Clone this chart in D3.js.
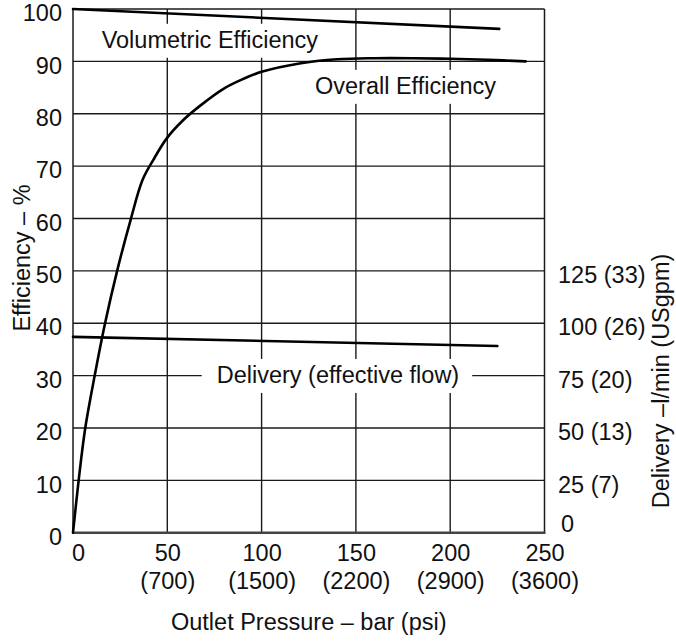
<!DOCTYPE html>
<html>
<head>
<meta charset="utf-8">
<script src="https://cdn.jsdelivr.net/npm/d3@7"></script>
<style>
  html, body { margin: 0; padding: 0; background: #fff; }
  svg { display: block; }
  text { font-family: "Liberation Sans", Arial, sans-serif; font-size: 23.5px; fill: #111; }
</style>
</head>
<body>
<svg id="chart" width="676" height="642"></svg>
<script>
// ---- data ----
const pressureTicks = [0, 50, 100, 150, 200, 250];
const psiLabels = ["", "(700)", "(1500)", "(2200)", "(2900)", "(3600)"];
const efficiencyTicks = [0, 10, 20, 30, 40, 50, 60, 70, 80, 90, 100];
const deliveryTicks = [0, 25, 50, 75, 100, 125];
const usgpmLabels = ["", "(7)", "(13)", "(20)", "(26)", "(33)"];

const volPressure = [0, 226];
const volEfficiency = [100, 96.2];

const overallPressure = [0, 3, 6.5, 11.5, 17, 23.4, 30.6, 36.8, 42.6, 49.7, 58.5, 67.3, 80, 90, 100, 120, 140, 160, 180, 200, 220, 240];
const overallEfficiency = [0, 10, 20, 30, 40, 50, 59.8, 67.3, 71.2, 75.3, 78.8, 81.5, 84.8, 86.6, 88.0, 89.6, 90.4, 90.6, 90.6, 90.5, 90.3, 90.0];

const deliveryPressure = [0, 225];
const deliveryFlow = [93.5, 89.1];   // l/min

// ---- layout ----
const svg = d3.select("#chart");
const plotL = 73, plotR = 544.5, plotT = 9, plotB = 532.7;

const x = d3.scaleLinear().domain([0, 250]).range([plotL, plotR]);
const y = d3.scaleLinear().domain([0, 100]).range([plotB, plotT]);
const yD = d3.scaleLinear().domain([0, 250]).range([plotB, plotT]);

const gridColor = "#1a1a1a";
const FONT = '"Liberation Sans", Arial, sans-serif';

// horizontal grid
svg.append("g").selectAll("line").data(efficiencyTicks.filter(d => d > 0 && d < 100)).join("line")
  .attr("x1", plotL).attr("x2", plotR)
  .attr("y1", d => y(d)).attr("y2", d => y(d))
  .attr("stroke", gridColor).attr("stroke-width", 1.4);

// vertical grid
svg.append("g").selectAll("line").data(pressureTicks.filter(d => d > 0 && d < 250)).join("line")
  .attr("x1", d => x(d)).attr("x2", d => x(d))
  .attr("y1", plotT).attr("y2", plotB)
  .attr("stroke", gridColor).attr("stroke-width", 1.4);

// frame
svg.append("line").attr("x1", plotL).attr("x2", plotR).attr("y1", plotT).attr("y2", plotT)
  .attr("stroke", gridColor).attr("stroke-width", 1.5);
svg.append("line").attr("x1", plotL).attr("x2", plotL).attr("y1", plotT).attr("y2", plotB)
  .attr("stroke", gridColor).attr("stroke-width", 1.5);
svg.append("line").attr("x1", plotR).attr("x2", plotR).attr("y1", plotT).attr("y2", plotB)
  .attr("stroke", gridColor).attr("stroke-width", 1.5);
svg.append("line").attr("x1", plotL - 1).attr("x2", plotR + 1).attr("y1", plotB).attr("y2", plotB)
  .attr("stroke", "#444").attr("stroke-width", 2.4);

// ---- labels with white backing ----
function boxedLabel(txt, px, py, padL, padR) {
  const g = svg.append("g");
  const t = g.append("text").attr("x", px).attr("y", py).text(txt);
  const w = t.node().getComputedTextLength();
  g.insert("rect", "text")
    .attr("x", px - padL).attr("y", py - 24.5)
    .attr("width", w + padL + padR).attr("height", 34)
    .attr("fill", "#fff");
}
boxedLabel("Volumetric Efficiency", x(15.2), y(92.5), 8, 8);
boxedLabel("Overall Efficiency", x(128.3), y(83.7), 8, 8);
boxedLabel("Delivery (effective flow)", x(76.2), y(28.5), 15, 13);

// ---- curves ----
const line = d3.line().x(d => x(d[0])).y(d => y(d[1]));
const lineD = d3.line().x(d => x(d[0])).y(d => yD(d[1]));

svg.append("path")
  .datum(volPressure.map((p, i) => [p, volEfficiency[i]]))
  .attr("d", line).attr("fill", "none").attr("stroke", "#000")
  .attr("stroke-width", 2.6).attr("stroke-linecap", "round");

svg.append("path")
  .datum(overallPressure.map((p, i) => [p, overallEfficiency[i]]))
  .attr("d", d3.line().x(d => x(d[0])).y(d => y(d[1])).curve(d3.curveCatmullRom.alpha(0.5)))
  .attr("fill", "none").attr("stroke", "#000")
  .attr("stroke-width", 2.6).attr("stroke-linecap", "round");

svg.append("path")
  .datum(deliveryPressure.map((p, i) => [p, deliveryFlow[i]]))
  .attr("d", lineD).attr("fill", "none").attr("stroke", "#000")
  .attr("stroke-width", 2.6).attr("stroke-linecap", "round");

// ---- axes ----
const yAxis = d3.axisLeft(y).tickValues(efficiencyTicks).tickSize(0).tickPadding(11);
const gy = svg.append("g").attr("transform", `translate(${plotL},0)`).call(yAxis);
gy.select(".domain").remove();
gy.selectAll("text").attr("dy", "0.5em").style("font-size", "23.5px")
  .style("font-family", FONT).attr("fill", "#111");

const yAxisR = d3.axisRight(yD).tickValues(deliveryTicks).tickSize(0).tickPadding(13.5)
  .tickFormat((d, i) => usgpmLabels[i] ? `${d} ${usgpmLabels[i]}` : `${d}`);
const gyr = svg.append("g").attr("transform", `translate(${plotR},0)`).call(yAxisR);
gyr.select(".domain").remove();
gyr.selectAll("text").attr("dy", d => d === 0 ? "-0.05em" : "0.5em")
  .attr("dx", d => d === 0 ? 3 : 0)
  .style("font-size", "23.5px")
  .style("font-family", FONT).attr("fill", "#111");

const xAxis = d3.axisBottom(x).tickValues(pressureTicks).tickSize(0).tickPadding(0);
const gx = svg.append("g").attr("transform", `translate(0,${plotB})`).call(xAxis);
gx.select(".domain").remove();
gx.selectAll("text").each(function(d, i) {
  const t = d3.select(this);
  t.text(null).attr("y", 0).attr("dy", null)
    .style("font-size", "23.5px")
    .style("font-family", FONT).attr("fill", "#111");
  t.append("tspan").attr("x", d === 0 ? 5 : 0).attr("y", 28).text(d);
  if (psiLabels[i]) t.append("tspan").attr("x", 0).attr("y", 56).text(psiLabels[i]);
});

// ---- axis titles ----
svg.append("text").attr("transform", `translate(${(plotL + plotR) / 2},630)`)
  .attr("text-anchor", "middle").text("Outlet Pressure – bar (psi)");
svg.append("text").attr("transform", "translate(30,258) rotate(-90)")
  .attr("text-anchor", "middle").text("Efficiency – %");
svg.append("text").attr("transform", "translate(669,381) rotate(-90)")
  .attr("text-anchor", "middle").text("Delivery –l/min (USgpm)");
</script>
</body>
</html>
